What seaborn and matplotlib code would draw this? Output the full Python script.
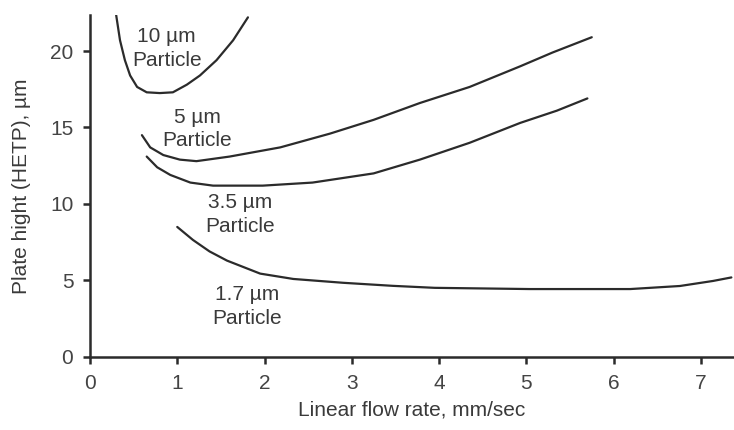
import matplotlib
matplotlib.use("Agg")
import matplotlib.pyplot as plt
import seaborn as sns
import pandas as pd

# HETP curves (Van Deemter) for four particle sizes
flow_10 = [0.30, 0.344, 0.40, 0.46, 0.54, 0.65, 0.80, 0.95, 1.11, 1.26, 1.45, 1.64, 1.81]
hetp_10 = [22.35, 20.7, 19.4, 18.4, 17.65, 17.3, 17.25, 17.3, 17.8, 18.4, 19.4, 20.7, 22.2]

flow_5 = [0.595, 0.69, 0.84, 1.03, 1.22, 1.60, 2.18, 2.75, 3.25, 3.78, 4.35, 4.93, 5.30, 5.75]
hetp_5 = [14.5, 13.7, 13.2, 12.9, 12.8, 13.1, 13.7, 14.6, 15.5, 16.6, 17.65, 19.0, 19.9, 20.9]

flow_35 = [0.65, 0.77, 0.92, 1.15, 1.41, 1.98, 2.55, 3.25, 3.78, 4.35, 4.93, 5.35, 5.70]
hetp_35 = [13.1, 12.4, 11.9, 11.4, 11.2, 11.2, 11.4, 12.0, 12.9, 14.0, 15.3, 16.1, 16.9]

flow_17 = [1.00, 1.18, 1.37, 1.57, 1.95, 2.33, 2.90, 3.47, 3.95, 5.04, 6.19, 6.76, 7.14, 7.35]
hetp_17 = [8.5, 7.65, 6.9, 6.3, 5.45, 5.1, 4.85, 4.65, 4.52, 4.44, 4.44, 4.64, 4.97, 5.2]

particles = ["10 \u00b5m", "5 \u00b5m", "3.5 \u00b5m", "1.7 \u00b5m"]
label_x = [0.88, 1.23, 1.72, 1.80]
label_y = [21.55, 16.3, 10.7, 4.7]

frames = []
for name, xs, ys in zip(particles,
                        [flow_10, flow_5, flow_35, flow_17],
                        [hetp_10, hetp_5, hetp_35, hetp_17]):
    frames.append(pd.DataFrame({"flow": xs, "hetp": ys, "particle": name}))
df = pd.concat(frames, ignore_index=True)

sns.set_style("ticks")
plt.rcParams["font.family"] = ["Liberation Sans", "DejaVu Sans"]

ink = "#2b2b2b"
text_col = "#3a3a3a"
fs = 15
fig = plt.figure(figsize=(7.34, 4.30), dpi=100)
ax = fig.add_axes([0.1226, 0.1698, 0.8774, 0.7952])

sns.lineplot(data=df, x="flow", y="hetp", hue="particle", units="particle",
             estimator=None, sort=False, palette=[ink] * 4, linewidth=1.6,
             legend=False, ax=ax)

for name, tx, ty in zip(particles, label_x, label_y):
    ax.text(tx, ty, name + "\nParticle", ha="center", va="top",
            fontsize=fs, color=text_col, linespacing=1.3)

ax.set_xlim(0, 7.38)
ax.set_ylim(0, 22.35)
ax.set_xticks(range(0, 8))
ax.set_yticks([0, 5, 10, 15, 20])
ax.set_xlabel("Linear flow rate, mm/sec", fontsize=fs, color=text_col, labelpad=6)
ax.set_ylabel("Plate hight (HETP), \u00b5m", fontsize=fs, color=text_col, labelpad=14)

sns.despine(ax=ax)
for side in ["left", "bottom"]:
    ax.spines[side].set_linewidth(1.8)
    ax.spines[side].set_color(ink)
ax.tick_params(axis="both", length=5, width=1.8, color=ink,
               labelsize=fs, labelcolor="#444444", pad=7)

fig.savefig("out.png", dpi=100)
